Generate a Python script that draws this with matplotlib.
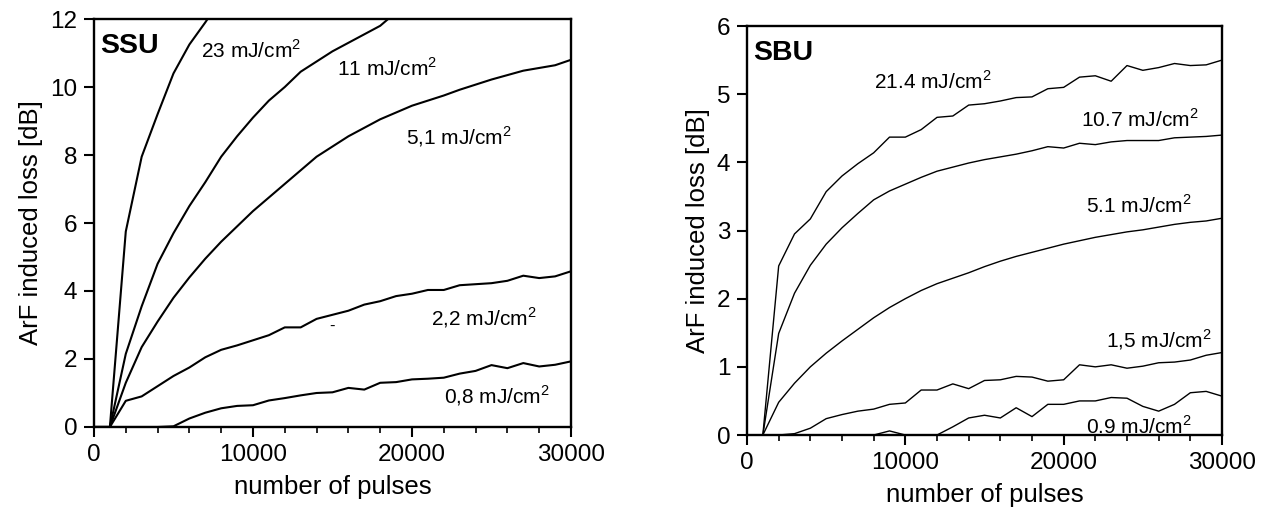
import matplotlib
matplotlib.use("Agg")
import matplotlib.pyplot as plt
from matplotlib.ticker import MultipleLocator

plt.rcParams["font.family"] = ["Liberation Sans", "DejaVu Sans"]
plt.rcParams["mathtext.fontset"] = "custom"
plt.rcParams["mathtext.rm"] = "Liberation Sans"

# pulse counts in thousands, one reading every 1000 pulses
pulses_k = [0, 1, 2, 3, 4, 5, 6, 7, 8, 9, 10, 11, 12, 13, 14, 15,
            16, 17, 18, 19, 20, 21, 22, 23, 24, 25, 26, 27, 28, 29, 30]

# SSU fibre, induced loss [dB]
ssu_23 = [0, 0, 5.75, 7.95, 9.2, 10.4, 11.25, 11.9, 12.6]
ssu_11 = [0, 0, 2.15, 3.55, 4.8, 5.7, 6.5, 7.2, 7.95, 8.55, 9.1, 9.6, 10.0,
          10.45, 10.75, 11.05, 11.3, 11.55, 11.8, 12.2]
ssu_5_1 = [0, 0, 1.3, 2.35, 3.1, 3.8, 4.4, 4.95, 5.45, 5.9, 6.35, 6.75, 7.15,
           7.55, 7.95, 8.25, 8.55, 8.8, 9.05, 9.25, 9.45, 9.6, 9.75, 9.92,
           10.07, 10.22, 10.35, 10.48, 10.56, 10.64, 10.8]
ssu_2_2 = [0, 0, 0.77, 0.9, 1.2, 1.5, 1.75, 2.05, 2.27, 2.4, 2.55, 2.7, 2.93,
           2.93, 3.18, 3.3, 3.42, 3.6, 3.7, 3.85, 3.92, 4.03, 4.03, 4.17, 4.2,
           4.23, 4.3, 4.45, 4.38, 4.43, 4.58]
ssu_0_8 = [0, 0, 0, 0, 0, 0.02, 0.25, 0.42, 0.55, 0.62, 0.64, 0.78, 0.85,
           0.93, 1.0, 1.02, 1.15, 1.1, 1.3, 1.32, 1.4, 1.42, 1.45, 1.57, 1.65,
           1.82, 1.73, 1.88, 1.78, 1.83, 1.93]

# SBU fibre, induced loss [dB]
sbu_21_4 = [0, 0, 2.48, 2.95, 3.17, 3.57, 3.8, 3.98, 4.14, 4.37, 4.37, 4.48,
            4.66, 4.68, 4.84, 4.86, 4.9, 4.95, 4.96, 5.08, 5.1, 5.25, 5.27,
            5.19, 5.42, 5.35, 5.39, 5.45, 5.42, 5.43, 5.5]
sbu_10_7 = [0, 0, 1.49, 2.08, 2.49, 2.8, 3.04, 3.25, 3.45, 3.58, 3.68, 3.78,
            3.87, 3.93, 3.99, 4.04, 4.08, 4.12, 4.17, 4.23, 4.21, 4.28, 4.26,
            4.3, 4.32, 4.32, 4.32, 4.36, 4.37, 4.38, 4.4]
sbu_5_1 = [0, 0, 0.48, 0.76, 1.0, 1.2, 1.38, 1.55, 1.72, 1.87, 2.0, 2.12, 2.22,
           2.3, 2.38, 2.47, 2.55, 2.62, 2.68, 2.74, 2.8, 2.85, 2.9, 2.94,
           2.98, 3.01, 3.05, 3.09, 3.12, 3.14, 3.18]
sbu_1_5 = [0, 0, 0, 0.02, 0.1, 0.24, 0.3, 0.35, 0.38, 0.45, 0.47, 0.66, 0.66,
           0.75, 0.68, 0.8, 0.81, 0.86, 0.85, 0.79, 0.81, 1.03, 1.0, 1.03,
           0.98, 1.01, 1.06, 1.07, 1.1, 1.17, 1.21]
sbu_0_9 = [0, 0, 0, 0, 0, 0, 0, 0, 0, 0.06, 0, 0, 0, 0.12, 0.25, 0.29, 0.25,
           0.4, 0.27, 0.45, 0.45, 0.5, 0.5, 0.55, 0.54, 0.42, 0.35, 0.45,
           0.62, 0.64, 0.57]

ssu_curves = [ssu_23, ssu_11, ssu_5_1, ssu_2_2, ssu_0_8]
ssu_labels = ["23 mJ/cm$^2$", "11 mJ/cm$^2$", "5,1 mJ/cm$^2$",
              "2,2 mJ/cm$^2$", "0,8 mJ/cm$^2$"]
ssu_label_pos = [(6700, 11.07), (15300, 10.53), (19600, 8.53),
                 (21200, 3.2), (22000, 0.91)]

sbu_curves = [sbu_21_4, sbu_10_7, sbu_5_1, sbu_1_5, sbu_0_9]
sbu_labels = ["21.4 mJ/cm$^2$", "10.7 mJ/cm$^2$", "5.1 mJ/cm$^2$",
              "1,5 mJ/cm$^2$", "0.9 mJ/cm$^2$"]
sbu_label_pos = [(8000, 5.19), (21100, 4.63), (21400, 3.36),
                 (22700, 1.4), (21400, 0.13)]

fig = plt.figure(figsize=(12.7, 5.11), dpi=100)
ax1 = fig.add_axes([0.074, 0.1644, 0.3756, 0.7984])
ax2 = fig.add_axes([0.5882, 0.1487, 0.374, 0.8004])


def style_axes(ax, ymax, ystep, name):
    ax.set_xlim(0, 30000)
    ax.set_ylim(0, ymax)
    ax.xaxis.set_major_locator(MultipleLocator(10000))
    ax.xaxis.set_minor_locator(MultipleLocator(2000))
    ax.yaxis.set_major_locator(MultipleLocator(ystep))
    ax.tick_params(which="major", direction="out", length=7, width=1.5,
                   labelsize=17.5, pad=5, top=False, right=False)
    ax.tick_params(which="minor", direction="out", length=4, width=1.2,
                   top=False, right=False)
    for sp in ax.spines.values():
        sp.set_linewidth(1.7)
    ax.set_xlabel("number of pulses", fontsize=18.5, labelpad=7)
    ax.set_ylabel("ArF induced loss [dB]", fontsize=18.5, labelpad=5)
    ax.text(0.012, 0.965, name, transform=ax.transAxes, fontsize=20.5,
            fontweight="bold", ha="left", va="top")


# left panel: SSU
for vals, lab, (tx, ty) in zip(ssu_curves, ssu_labels, ssu_label_pos):
    xs = [k * 1000 for k in pulses_k[:len(vals)]]
    ax1.plot(xs, vals, color="black", lw=1.5)
    ax1.text(tx, ty, lab, fontsize=15, ha="left", va="center")
# stray dash that sits below the 2,2 curve in the original
ax1.text(15000, 2.95, "-", fontsize=12, ha="center", va="center")
style_axes(ax1, 12, 2, "SSU")

# right panel: SBU
for vals, lab, (tx, ty) in zip(sbu_curves, sbu_labels, sbu_label_pos):
    xs = [k * 1000 for k in pulses_k[:len(vals)]]
    ax2.plot(xs, vals, color="black", lw=1.0)
    ax2.text(tx, ty, lab, fontsize=15, ha="left", va="center")
style_axes(ax2, 6, 1, "SBU")

fig.savefig("out.png", dpi=100)
